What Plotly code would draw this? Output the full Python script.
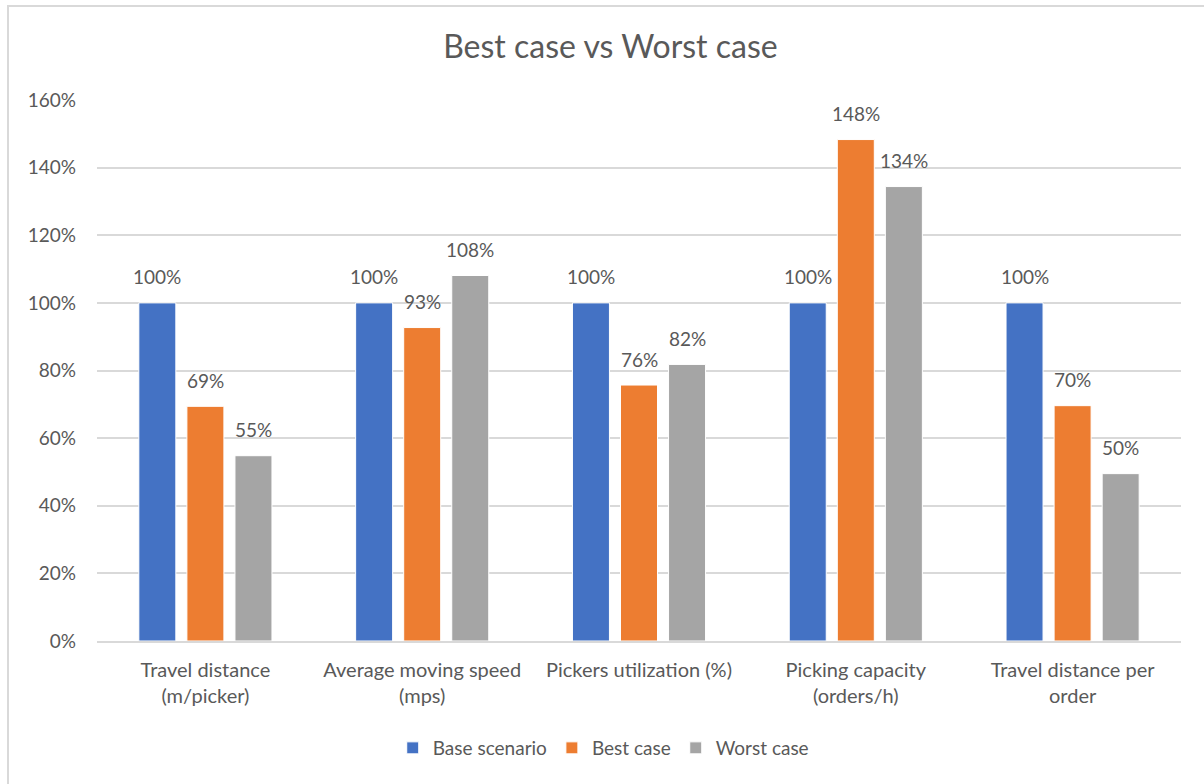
import plotly.graph_objects as go

categories = ["Travel distance<br>(m/picker)", "Average moving speed<br>(mps)",
              "Pickers utilization (%)", "Picking capacity<br>(orders/h)",
              "Travel distance per<br>order"]
base_scenario = [1.00, 1.00, 1.00, 1.00, 1.00]
best_case = [0.694, 0.927, 0.757, 1.483, 0.696]
worst_case = [0.548, 1.081, 0.818, 1.344, 0.495]
series_names = ["Base scenario", "Best case", "Worst case"]
colors = ["#4472C4", "#ED7D31", "#A5A5A5"]

W, H = 1204, 784
L, R, T, B = 97, 23, 100, 143
pw, ph = W - L - R, H - T - B
BARGAP, GROUPGAP = 0.335, 0.23

FONT = "Lato"
GRAY = "#595959"

fig = go.Figure()
series = [base_scenario, best_case, worst_case]
for name, vals, col in zip(series_names, series, colors):
    fig.add_trace(go.Bar(
        name=name, x=categories, y=vals,
        marker=dict(color=col, line=dict(color="white", width=1)),
        cliponaxis=False,
    ))

# data labels, offset to each bar's slot within its group
slot_px = pw / len(categories) * (1 - BARGAP) / len(series)
annotations = []
for i, vals in enumerate(series):
    for cat, v in zip(categories, vals):
        annotations.append(dict(
            x=cat, y=v, xref="x", yref="y", text=f"{round(v*100)}%", showarrow=False,
            xshift=(i - (len(series) - 1) / 2) * slot_px, yshift=26,
            yanchor="middle", xanchor="center",
            font=dict(family=FONT, size=19, color=GRAY)))

def px_x(p):
    return (p - L) / pw

def px_y(p):
    return (H - B - p) / ph

fig.update_layout(
    width=W, height=H,
    margin=dict(l=L, r=R, t=T, b=B, pad=0),
    paper_bgcolor="white", plot_bgcolor="white",
    barmode="group", bargap=BARGAP, bargroupgap=GROUPGAP,
    title=dict(text="Best case vs Worst case", x=0.507, xref="container",
               y=1 - 47 / H, yref="container", xanchor="center", yanchor="middle",
               font=dict(family=FONT, size=32, color=GRAY)),
    font=dict(family=FONT, size=19, color=GRAY),
    legend=dict(orientation="h", x=0.467, xanchor="center", y=px_y(748), yanchor="middle",
                font=dict(family=FONT, size=19, color=GRAY), itemwidth=30,
                traceorder="normal"),
    annotations=annotations,
    shapes=[dict(type="rect", xref="paper", yref="paper",
                 x0=px_x(8), x1=px_x(W + 10), y0=px_y(H + 10), y1=px_y(6),
                 line=dict(color="#D9D9D9", width=2), fillcolor="rgba(0,0,0,0)", layer="below")],
)
fig.update_yaxes(range=[0, 1.6], dtick=0.2, tickformat=".0%", showgrid=True,
                 gridcolor="#D9D9D9", gridwidth=2, zeroline=False, showline=False,
                 ticks="", ticklabelstandoff=20,
                 tickfont=dict(family=FONT, size=19, color=GRAY))
fig.update_xaxes(showline=True, linecolor="#D9D9D9", linewidth=2, ticks="",
                 tickfont=dict(family=FONT, size=20, color=GRAY), ticklabelstandoff=10)

fig.write_html("out.html")
